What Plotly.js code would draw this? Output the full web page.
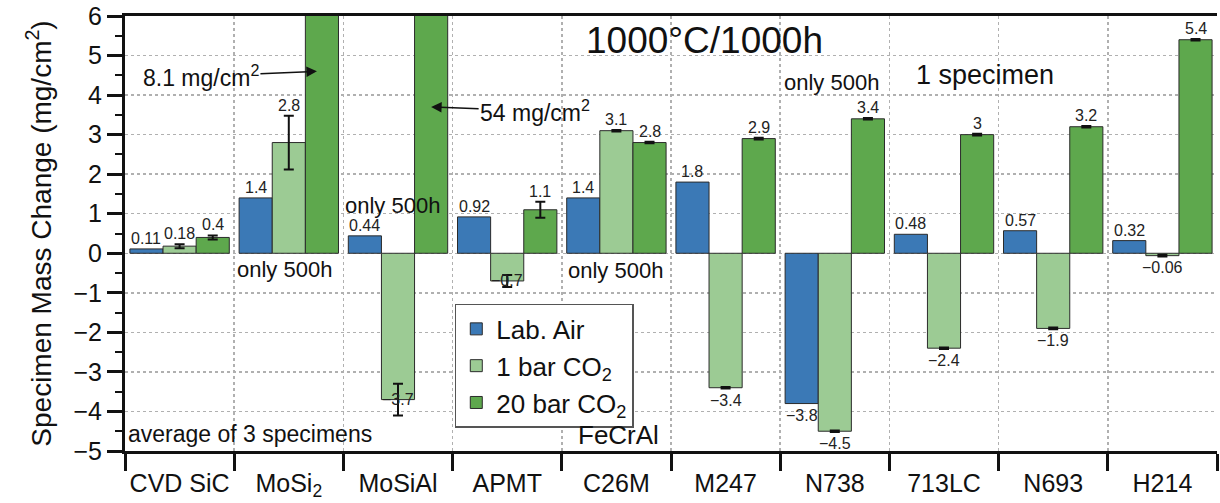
<!DOCTYPE html>
<html>
<head>
<meta charset="utf-8">
<script src="https://cdn.plot.ly/plotly-3.0.1.min.js"></script>
<style>html,body{margin:0;padding:0;background:#fff;}#chart{width:1220px;height:503px;}</style>
</head>
<body>
<div id="chart"></div>
<script>
// ---- data ----
const categories = ["CVD SiC", "MoSi<sub>2</sub>", "MoSiAl", "APMT", "C26M", "M247", "N738", "713LC", "N693", "H214"];
const seriesNames = ["Lab. Air", "1 bar CO<sub>2</sub>", "20 bar CO<sub>2</sub>"];
const labAir   = [0.11, 1.4, 0.44, 0.92, 1.4, 1.8, -3.8, 0.48, 0.57, 0.32];
const co2_1bar = [0.18, 2.8, -3.7, -0.7, 3.1, -3.4, -4.5, -2.4, -1.9, -0.06];
const co2_20bar= [0.4, 8.1, 54, 1.1, 2.8, 2.9, 3.4, 3.0, 3.2, 5.4];
const errAir   = [0, 0, 0, 0, 0, 0, 0, 0, 0, 0];
const err1bar  = [0.05, 0.68, 0.4, 0.15, 0.02, 0.02, 0.02, 0.02, 0.02, 0.02];
const err20bar = [0.05, 0, 0, 0.2, 0.02, 0.02, 0.02, 0.02, 0.02, 0.02];
const labelAir   = ["0.11", "1.4", "0.44", "0.92", "1.4", "1.8", "\u22123.8", "0.48", "0.57", "0.32"];
const label1bar  = ["0.18", "2.8", "\u22123.7", "\u22120.7", "3.1", "\u22123.4", "\u22124.5", "\u22122.4", "\u22121.9", "\u22120.06"];
const label20bar = ["0.4", "", "", "1.1", "2.8", "2.9", "3.4", "3", "3.2", "5.4"];
const colors = ["#3b79b6", "#9ccb94", "#5ea84d"];

const FONT = "Liberation Sans, Arial, Helvetica, sans-serif";
const yRange = [-5, 6];
const bargap = 0.09;
const plotW = 1220 - 125 - 3;
const barPx = plotW / categories.length * (1 - bargap) / 3;

const allVals = [labAir, co2_1bar, co2_20bar];
const allErr = [errAir, err1bar, err20bar];
const allLabels = [labelAir, label1bar, label20bar];

const traces = allVals.map((vals, s) => ({
  type: "bar",
  name: seriesNames[s],
  x: categories,
  y: vals,
  marker: {color: colors[s], line: {color: "#2b2b2b", width: 1}},
  error_y: allErr[s].some(v => v > 0) ? {
    type: "data", array: allErr[s], arrayminus: allErr[s], visible: true,
    color: "#111", thickness: 2, width: 5
  } : {visible: false},
  hoverinfo: "skip"
}));

const annotations = [];
allVals.forEach((vals, s) => {
  vals.forEach((v, i) => {
    const txt = allLabels[s][i];
    if (!txt || v > yRange[1]) return;
    const e = allErr[s][i];
    let y, yanchor, yshift;
    if (v >= 0) { y = v + e; yanchor = "bottom"; yshift = 0; }
    else if (e >= 0.1) { y = v; yanchor = "middle"; yshift = 0; }
    else { y = v - e; yanchor = "top"; yshift = -1; }
    annotations.push({
      x: categories[i], y: y, xref: "x", yref: "y",
      xshift: (s - 1) * barPx, yshift: yshift,
      text: txt, showarrow: false, xanchor: "center", yanchor: yanchor,
      font: {family: FONT, size: 16, color: "#222"}
    });
  });
});

function note(text, xp, y, size) {
  annotations.push({x: xp, y: y, xref: "paper", yref: "y", text: text, showarrow: false,
    xanchor: "center", yanchor: "middle", font: {family: FONT, size: size, color: "#111"}});
}
note("1000\u00b0C/1000h", 0.531, 5.39, 37);
note("1 specimen", 0.788, 4.5, 27);
note("only 500h", 0.647, 4.33, 22);
note("only 500h", 0.245, 1.22, 22);
note("only 500h", 0.1465, -0.4, 22);
note("only 500h", 0.449, -0.43, 22);
note("average of 3 specimens", 0.1145, -4.56, 23);
note("FeCrAl", 0.4515, -4.6, 26);

// arrows to clipped bars
annotations.push({x: categories[1], y: 4.6, xref: "x", yref: "y", xshift: barPx - 5,
  text: "8.1 mg/cm<sup>2</sup>", showarrow: true, arrowhead: 2, arrowsize: 1.4, arrowwidth: 1.5,
  arrowcolor: "#111", ax: -116, ay: 5, font: {family: FONT, size: 23, color: "#111"}});
annotations.push({x: categories[2], y: 3.7, xref: "x", yref: "y", xshift: barPx,
  text: "54 mg/cm<sup>2</sup>", showarrow: true, arrowhead: 2, arrowsize: 1.4, arrowwidth: 1.5,
  arrowcolor: "#111", ax: 104, ay: 4, font: {family: FONT, size: 23, color: "#111"}});

const layout = {
  width: 1220, height: 503,
  margin: {l: 125, r: 3, t: 16, b: 52},
  paper_bgcolor: "#fff", plot_bgcolor: "#fff",
  barmode: "group", bargap: bargap, bargroupgap: 0,
  font: {family: FONT, color: "#111"},
  showlegend: true,
  legend: {x: 0.302, y: 0.338, xanchor: "left", yanchor: "top",
    bgcolor: "#fff", bordercolor: "#555", borderwidth: 1.5,
    font: {family: FONT, size: 26, color: "#111"}, tracegroupgap: 0},
  xaxis: {
    type: "category", tickson: "boundaries", ticks: "outside", ticklen: 17, tickwidth: 3, tickcolor: "#111",
    tickangle: 0, automargin: false, ticklabelstandoff: 8,
    showline: true, linewidth: 3, linecolor: "#111", mirror: true,
    showgrid: true, gridcolor: "#b0b0b0", griddash: "dot", gridwidth: 1.5,
    tickfont: {family: FONT, size: 25, color: "#111"}, fixedrange: true
  },
  yaxis: {
    range: yRange, dtick: 1, ticks: "outside", ticklen: 15, tickwidth: 3, tickcolor: "#111",
    showline: true, linewidth: 3, linecolor: "#111", zeroline: false,
    showgrid: true, gridcolor: "#b0b0b0", griddash: "dot", gridwidth: 1.5,
    minor: {dtick: 0.5, ticks: "outside", ticklen: 7, tickwidth: 2, tickcolor: "#111", showgrid: false},
    tickfont: {family: FONT, size: 25, color: "#111"},
    title: {text: "Specimen Mass Change (mg/cm<sup>2</sup>)", font: {family: FONT, size: 28, color: "#111"}, standoff: 14},
    automargin: false, fixedrange: true
  },
  annotations: annotations
};

Plotly.newPlot("chart", traces, layout, {displayModeBar: false, staticPlot: true});
</script>
</body>
</html>
